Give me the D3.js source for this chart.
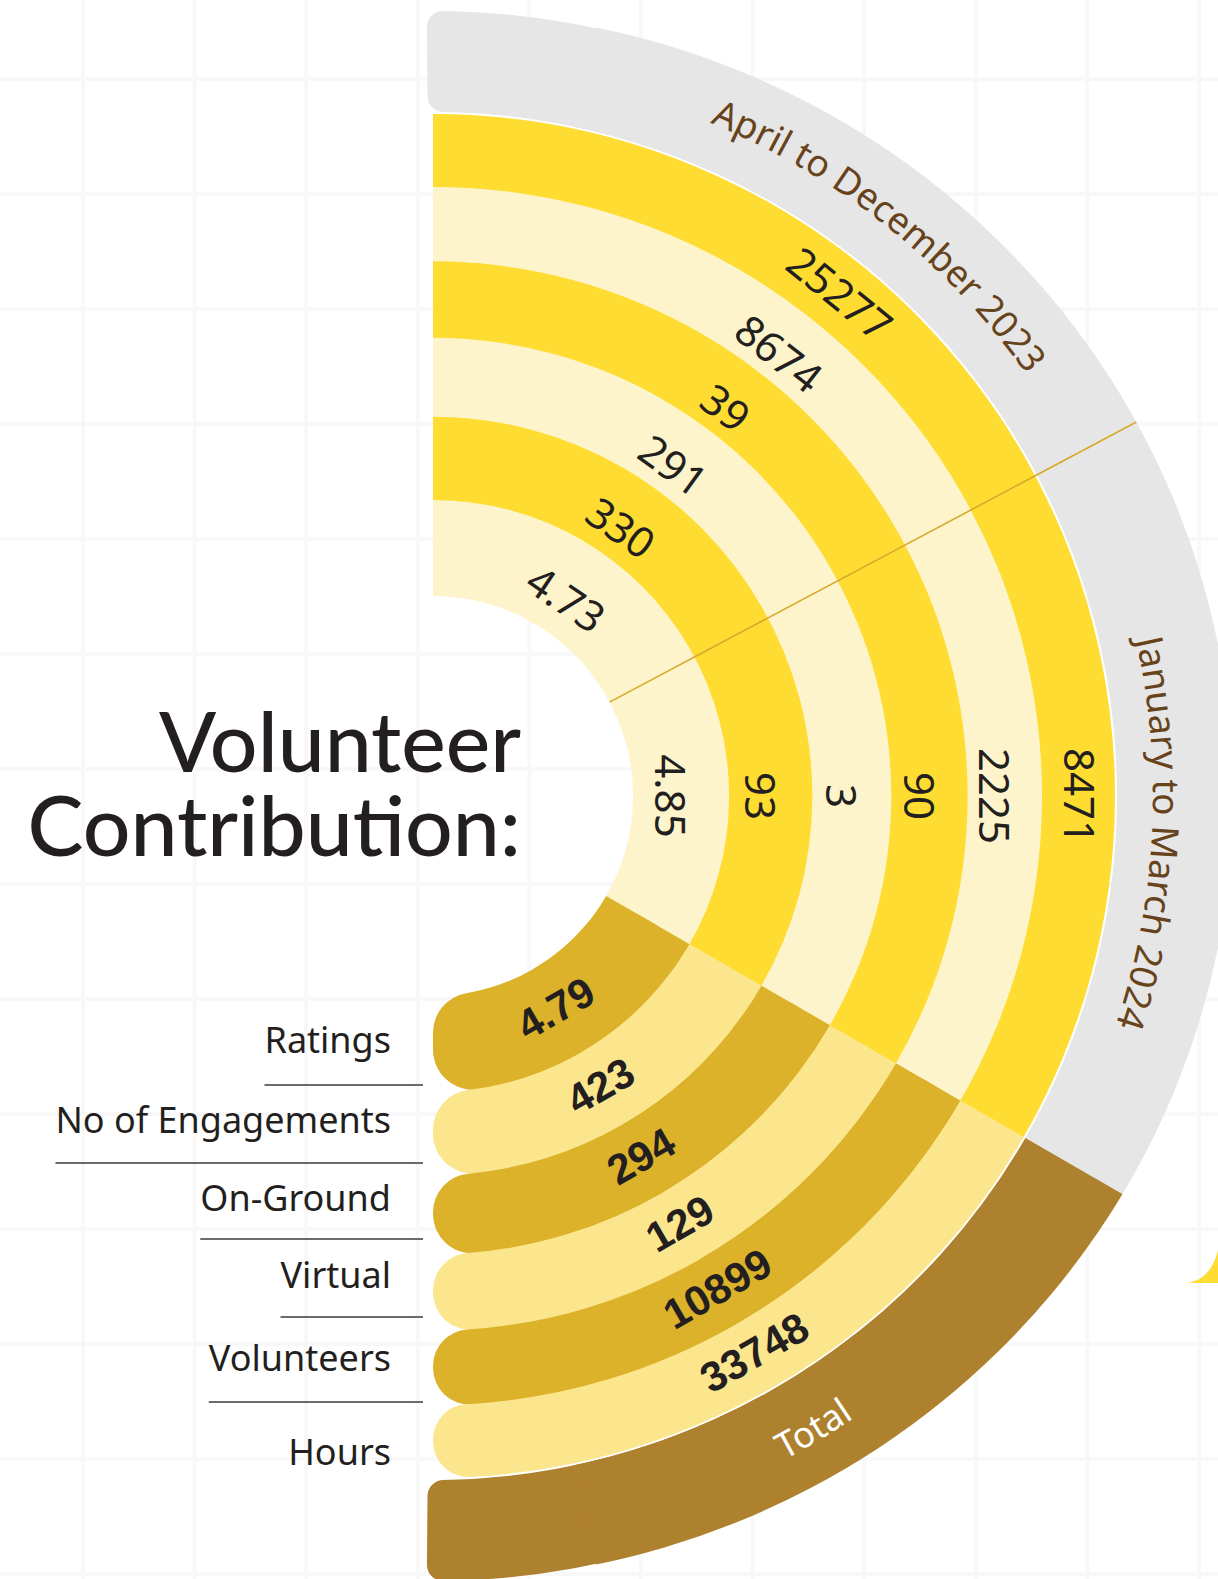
<!DOCTYPE html>
<html>
<head>
<meta charset="utf-8">
<script src="https://cdn.jsdelivr.net/npm/d3@7"></script>
<style>
  html, body { margin: 0; padding: 0; background: #ffffff; }
  svg { display: block; }
</style>
</head>
<body>
<svg id="chart" width="1218" height="1579"></svg>
<script>
// ---- data ----
const categories = ["Ratings", "No of Engagements", "On-Ground", "Virtual", "Volunteers", "Hours"];
const aprDec = [4.73, 330, 291, 39, 8674, 25277];
const janMar = [4.85, 93, 3, 90, 2225, 8471];
const totals = [4.79, 423, 294, 129, 10899, 33748];
const periodLabels = ["April to December 2023", "January to March 2024", "Total"];
const titleLines = ["Volunteer", "Contribution:"];

// ---- layout ----
const W = 1218, H = 1579;
const cx = 433, cy = 796;
const deg = Math.PI / 180;
const A_SPLIT = 62 * deg;    // divider between the two periods
const A_BOTTOM = 120 * deg;  // start of the totals section
const A_END = 180 * deg;

const C = {
  cream: "#FEF4CB", yellow: "#FEDC31",
  gold: "#DBB229", paleGold: "#FCE68D",
  brown: "#AE812E", gray: "#E6E6E6",
  divider: "#D6AB2B", ink: "#231F20", period: "#66431A",
  grid: "#F8F8F8"
};

const svg = d3.select("#chart");
const defs = svg.append("defs");

// faint background grid
const grid = svg.append("g");
d3.range(83 - 111.6, W + 10, 111.6).forEach(x => {
  grid.append("line").attr("x1", x).attr("x2", x).attr("y1", 0).attr("y2", H)
    .attr("stroke", C.grid).attr("stroke-width", 4);
});
d3.range(79 - 115, H + 10, 115).forEach(y => {
  grid.append("line").attr("x1", 0).attr("x2", W).attr("y1", y).attr("y2", y)
    .attr("stroke", C.grid).attr("stroke-width", 4);
});

// ring radius for each category (innermost = Ratings)
const n = categories.length;
const ringR = d3.scalePow().exponent(0.9).domain([0, n]).range([200, 682]);
const outerIn = 684, outerOut = 785;
const RX = 800, RY = 785;   // the outer band flares slightly on the right

const arc = d3.arc();
const g = svg.append("g").attr("transform", `translate(${cx},${cy})`);

// outer band: period header (gray) and total (brown)
g.append("path").attr("fill", C.gray).attr("d", d3.arc().cornerRadius(16)({
  innerRadius: outerIn, outerRadius: outerOut,
  startAngle: -0.45 * deg, endAngle: 40 * deg
}));
defs.append("clipPath").attr("id", "wedgeGray").append("path")
  .attr("d", arc({ innerRadius: outerIn, outerRadius: 950, startAngle: 12 * deg, endAngle: A_BOTTOM + 0.2 * deg }));
g.append("ellipse").attr("rx", RX).attr("ry", RY).attr("fill", C.gray)
  .attr("clip-path", "url(#wedgeGray)");

g.append("path").attr("fill", C.brown).attr("d", d3.arc().cornerRadius(16)({
  innerRadius: outerIn, outerRadius: outerOut,
  startAngle: 140 * deg, endAngle: A_END + 0.45 * deg
}));
defs.append("clipPath").attr("id", "wedgeBrown").append("path")
  .attr("d", arc({ innerRadius: outerIn, outerRadius: 950, startAngle: A_BOTTOM, endAngle: 168 * deg }));
g.append("ellipse").attr("rx", RX).attr("ry", RY).attr("fill", C.brown)
  .attr("clip-path", "url(#wedgeBrown)");

// period rings (upper) and total bands (lower), one per category
categories.forEach((cat, k) => {
  const r0 = ringR(k), r1 = ringR(k + 1) + (k < n - 1 ? 0.7 : 0);
  g.append("path")
    .attr("fill", k % 2 === 0 ? C.cream : C.yellow)
    .attr("d", arc({ innerRadius: r0, outerRadius: r1, startAngle: 0, endAngle: A_BOTTOM + 0.3 * deg }));
});
categories.forEach((cat, k) => {
  const r0 = ringR(k), r1 = ringR(k + 1) + (k < n - 1 ? 0.7 : 0);
  const fill = k % 2 === 0 ? C.gold : C.paleGold;
  const cr = Math.min(40, (r1 - r0) / 2 - 1);
  g.append("path").attr("fill", fill)
    .attr("d", d3.arc().cornerRadius(cr)({ innerRadius: r0, outerRadius: r1, startAngle: A_BOTTOM, endAngle: A_END }));
  g.append("path").attr("fill", fill)
    .attr("d", arc({ innerRadius: r0, outerRadius: r1, startAngle: A_BOTTOM, endAngle: 150 * deg }));
});

// divider between the two periods, out to the flared outer edge
const polar = (r, a) => [r * Math.sin(a), -r * Math.cos(a)];
const edgeR = a => 1 / Math.sqrt(Math.pow(Math.sin(a) / RX, 2) + Math.pow(Math.cos(a) / RY, 2));
const d0 = polar(ringR(0), A_SPLIT), d1 = polar(edgeR(A_SPLIT), A_SPLIT);
g.append("line").attr("x1", d0[0]).attr("y1", d0[1]).attr("x2", d1[0]).attr("y2", d1[1])
  .attr("stroke", C.divider).attr("stroke-width", 1.6);

// value labels
const fmt = v => String(v);
const mid = k => (ringR(k) + ringR(k + 1)) / 2;
const labelR = k => mid(k) + (k === n - 1 ? 0 : -11);

function placeLabel(value, r, aDeg, rot, opts) {
  const p = polar(r, aDeg * deg);
  g.append("text")
    .attr("transform", `translate(${p[0]},${p[1]}) rotate(${rot})`)
    .attr("text-anchor", "middle")
    .attr("dy", "0.35em")
    .attr("font-family", opts.family)
    .attr("font-weight", opts.weight)
    .attr("font-size", opts.size)
    .attr("fill", opts.fill)
    .text(value);
}

aprDec.forEach((v, k) => {
  const a = 34 + k * 1.0;
  placeLabel(fmt(v), labelR(k), a, a, { family: "Noto Sans", weight: 400, size: 42, fill: C.ink });
});
janMar.forEach((v, k) => {
  placeLabel(fmt(v), labelR(k), 90, 90, { family: "Noto Sans", weight: 400, size: 42, fill: C.ink });
});
totals.forEach((v, k) => {
  placeLabel(fmt(v), mid(k) - 3, 150, -30, { family: "Liberation Sans", weight: 700, size: 42, fill: C.ink });
});

// curved period captions
function captionPath(id, r, a0, a1, ccw) {
  const p = d3.path();
  p.arc(0, 0, r, (a0 - 90) * deg, (a1 - 90) * deg, ccw);
  defs.append("path").attr("id", id).attr("d", p.toString());
}
captionPath("capA", 728, 8, 69, false);
captionPath("capB", 720, 62, 124, false);
captionPath("capC", 751, 178, 120, true);

function caption(id, label, fill, size) {
  g.append("text")
    .attr("font-family", "Noto Sans").attr("font-size", size).attr("fill", fill)
    .append("textPath").attr("href", "#" + id)
    .attr("startOffset", "50%").attr("text-anchor", "middle")
    .text(label);
}
caption("capA", periodLabels[0], C.period, 37);
caption("capB", periodLabels[1], C.period, 37);
caption("capC", periodLabels[2], "#FFFFFF", 36);

// title
const title = svg.append("g").attr("font-family", "Lato").attr("font-weight", 500)
  .attr("font-size", 84).attr("fill", C.ink).attr("text-anchor", "end");
title.append("text").attr("x", 521).attr("y", 772).text(titleLines[0]);
title.append("text").attr("x", 521).attr("y", 856).text(titleLines[1]);

// category legend with rules
const rowBaseline = [1053, 1133, 1211, 1288, 1371, 1465];
const ruleY = [1085, 1163, 1239, 1317, 1402];
const legend = svg.append("g");
categories.forEach((cat, k) => {
  const t = legend.append("text")
    .attr("x", 391).attr("y", rowBaseline[k])
    .attr("text-anchor", "end")
    .attr("font-family", "Noto Sans").attr("font-size", 36).attr("fill", C.ink)
    .text(cat);
  if (k < ruleY.length) {
    const bb = t.node().getBBox();
    legend.append("line")
      .attr("x1", bb.x).attr("x2", 423)
      .attr("y1", ruleY[k]).attr("y2", ruleY[k])
      .attr("stroke", "#3a3a3a").attr("stroke-width", 1.5);
  }
});

// small accent at the lower right edge
svg.append("path").attr("fill", C.yellow)
  .attr("d", "M1188,1283 Q1211,1279 1218,1250 L1218,1283 Z");
</script>
</body>
</html>
